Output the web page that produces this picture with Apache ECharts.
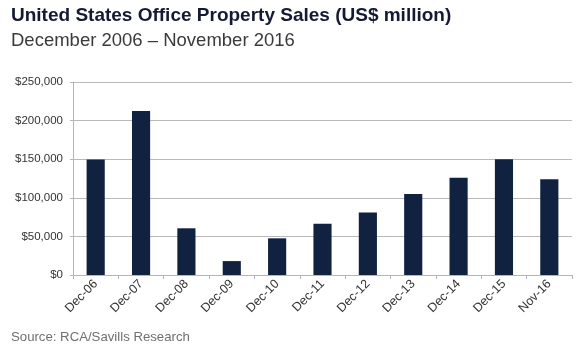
<!DOCTYPE html>
<html>
<head>
<meta charset="utf-8">
<script src="https://cdn.jsdelivr.net/npm/echarts@6/dist/echarts.min.js"></script>
<style>
  html, body { margin: 0; padding: 0; background: #fff; }
  #chart { width: 580px; height: 352px; }
</style>
</head>
<body>
<div id="chart"></div>
<script>
// data (US$ million)
const periods = ['Dec-06', 'Dec-07', 'Dec-08', 'Dec-09', 'Dec-10', 'Dec-11', 'Dec-12', 'Dec-13', 'Dec-14', 'Dec-15', 'Nov-16'];
const sales = [149500, 212500, 60500, 18000, 47500, 66500, 81000, 105000, 126000, 150000, 124000];
const yTicks = [0, 50000, 100000, 150000, 200000, 250000];

const font = 'Liberation Sans, Arial, Helvetica, sans-serif';
const chart = echarts.init(document.getElementById('chart'));

chart.setOption({
  animation: false,
  title: [
    {
      text: 'United States Office Property Sales (US$ million)',
      left: 6, top: 1,
      textStyle: { fontFamily: font, fontSize: 19, fontWeight: 'bold', color: '#141a33' }
    },
    {
      text: 'December 2006 – November 2016',
      left: 6, top: 26,
      textStyle: { fontFamily: font, fontSize: 18.5, fontWeight: 'normal', color: '#3a3a3a' }
    },
    {
      text: 'Source: RCA/Savills Research',
      left: 6, top: 326,
      textStyle: { fontFamily: font, fontSize: 13.2, fontWeight: 'normal', color: '#6f6f6f' }
    }
  ],
  grid: { left: 73, right: 8, top: 82, bottom: 77 },
  xAxis: {
    type: 'category',
    data: periods,
    axisLine: { lineStyle: { color: '#b5b5b5', width: 1 } },
    axisTick: { show: true, length: 4, lineStyle: { color: '#b5b5b5' } },
    axisLabel: { rotate: 45, fontFamily: font, fontSize: 12.5, color: '#333', margin: 7 }
  },
  yAxis: {
    type: 'value',
    min: yTicks[0],
    max: yTicks[yTicks.length - 1],
    interval: yTicks[1] - yTicks[0],
    axisLine: { show: true, lineStyle: { color: '#b5b5b5', width: 1 } },
    axisTick: { show: true, length: 3, lineStyle: { color: '#b5b5b5' } },
    splitLine: { lineStyle: { color: '#b9b9b9', width: 1 } },
    axisLabel: {
      fontFamily: font, fontSize: 11.5, color: '#333', margin: 10,
      formatter: v => '$' + v.toLocaleString('en-US')
    }
  },
  series: [
    {
      type: 'bar',
      data: sales,
      barWidth: '40%',
      itemStyle: { color: '#102240' }
    }
  ]
});
</script>
</body>
</html>
